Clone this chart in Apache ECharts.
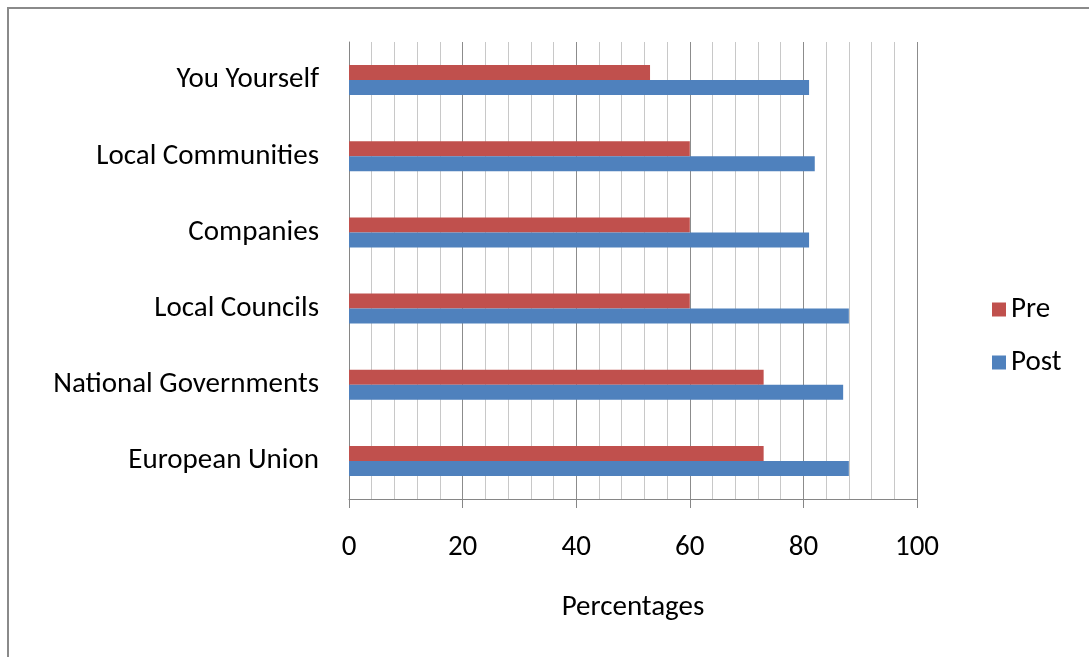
<!DOCTYPE html>
<html><head><meta charset="utf-8">
<script src="https://cdn.jsdelivr.net/npm/echarts@6/dist/echarts.min.js"></script>
<style>html,body{margin:0;padding:0;background:#fff}#c{width:1089px;height:657px}</style>
</head><body><div id="c"></div>
<script>
const categories = ['European Union','National Governments','Local Councils','Companies','Local Communities','You Yourself'];
const preValues = [73, 73, 60, 60, 60, 53];
const postValues = [88, 87, 88, 81, 82, 81];
const seriesNames = ['Pre','Post'];
const xTicks = [0,20,40,60,80,100];

const chart = echarts.init(document.getElementById('c'));
const font = 'Carlito, "Open Sans", "Liberation Sans", sans-serif';
const fs = 29;
chart.setOption({
  animation:false,
  backgroundColor:'#fff',
  graphic:[{type:'rect',shape:{x:8,y:8,width:1200,height:1000},style:{fill:'none',stroke:'#8a8a8a',lineWidth:2}}],
  grid:{left:349,right:172,top:42,bottom:158,containLabel:false},
  legend:{orient:'vertical',left:987,top:290,itemWidth:14,itemHeight:14,itemGap:24,icon:'rect',
    textStyle:{fontFamily:font,fontSize:fs,color:'#000'},data:seriesNames},
  xAxis:{type:'value',min:xTicks[0],max:xTicks[xTicks.length-1],interval:20,
    name:'Percentages',nameLocation:'middle',nameGap:94,nameTextStyle:{fontFamily:font,fontSize:fs,color:'#000'},
    axisLine:{show:true,lineStyle:{color:'#868686',width:1}},
    axisTick:{show:true,length:9,lineStyle:{color:'#868686'}},
    axisLabel:{fontFamily:font,fontSize:fs,color:'#000',margin:34},
    splitLine:{show:true,lineStyle:{color:'#8c8c8c',width:1}},
    minorTick:{show:false,splitNumber:5},
    minorSplitLine:{show:true,lineStyle:{color:'#c8c8c8',width:1}}},
  yAxis:{type:'category',data:categories,
    axisLine:{show:true,lineStyle:{color:'#868686'}},axisTick:{show:false},
    axisLabel:{fontFamily:font,fontSize:fs,color:'#000',margin:30}},
  series:[
    {name:seriesNames[0],type:'bar',data:preValues,barWidth:15,barGap:'0%',itemStyle:{color:'#C0504D'}},
    {name:seriesNames[1],type:'bar',data:postValues,barWidth:15,barGap:'0%',itemStyle:{color:'#4F81BD'}}
  ]
});
</script></body></html>
